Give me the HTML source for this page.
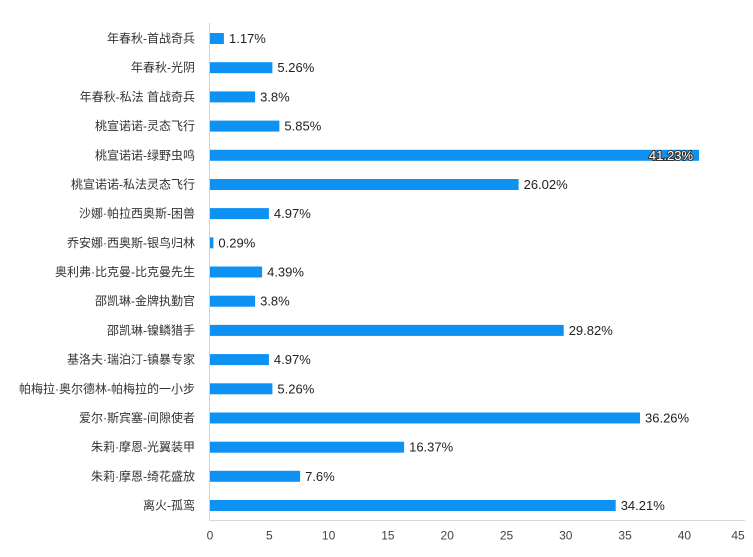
<!DOCTYPE html>
<html><head><meta charset="utf-8"><style>
html,body{margin:0;padding:0;background:#fff;}
svg{display:block;}
text{font-family:"Liberation Sans","Noto Sans CJK SC",sans-serif;}
</style></head><body>
<svg width="753" height="557" viewBox="0 0 753 557" xmlns="http://www.w3.org/2000/svg">
<rect width="753" height="557" fill="#fff"/>
<line x1="209.5" y1="23" x2="209.5" y2="521" stroke="#d0d0d0" stroke-width="1"/>
<line x1="209" y1="520.5" x2="745" y2="520.5" stroke="#d8d8d8" stroke-width="1"/>
<g id="bars"></g>
<g font-size="12" fill="#444" text-anchor="middle">
<text x="210" y="539.5">0</text>
<text x="269.3" y="539.5">5</text>
<text x="328.6" y="539.5">10</text>
<text x="387.9" y="539.5">15</text>
<text x="447.2" y="539.5">20</text>
<text x="506.5" y="539.5">25</text>
<text x="565.8" y="539.5">30</text>
<text x="625.1" y="539.5">35</text>
<text x="684.4" y="539.5">40</text>
<text x="738" y="539.5">45</text>
</g>
<g font-size="12" fill="#333" text-anchor="end">
<text x="195" y="42.5">年春秋-首战奇兵</text>
<text x="195" y="71.7">年春秋-光阴</text>
<text x="195" y="100.9">年春秋-私法 首战奇兵</text>
<text x="195" y="130.1">桃宣诺诺-灵态飞行</text>
<text x="195" y="159.3">桃宣诺诺-绿野虫鸣</text>
<text x="195" y="188.5">桃宣诺诺-私法灵态飞行</text>
<text x="195" y="217.6">沙娜·帕拉西奥斯-困兽</text>
<text x="195" y="246.8">乔安娜·西奥斯-银鸟归林</text>
<text x="195" y="276.0">奥利弗·比克曼-比克曼先生</text>
<text x="195" y="305.2">邵凯琳-金牌执勤官</text>
<text x="195" y="334.4">邵凯琳-镍鳞猎手</text>
<text x="195" y="363.6">基洛夫·瑞泊汀-镇暴专家</text>
<text x="195" y="392.8">帕梅拉·奥尔德林-帕梅拉的一小步</text>
<text x="195" y="422.0">爱尔·斯宾塞-间隙使者</text>
<text x="195" y="451.2">朱莉·摩恩-光翼装甲</text>
<text x="195" y="480.3">朱莉·摩恩-绮花盛放</text>
<text x="195" y="509.5">离火-孤鸾</text>
</g>
<g fill="#0d92f4">
<rect x="210" y="33" width="13.9" height="11"/>
<rect x="210" y="62.2" width="62.4" height="11"/>
<rect x="210" y="91.4" width="45.1" height="11"/>
<rect x="210" y="120.6" width="69.4" height="11"/>
<rect x="210" y="149.8" width="489" height="11"/>
<rect x="210" y="179" width="308.6" height="11"/>
<rect x="210" y="208.1" width="58.9" height="11"/>
<rect x="210" y="237.3" width="3.4" height="11"/>
<rect x="210" y="266.5" width="52.1" height="11"/>
<rect x="210" y="295.7" width="45.1" height="11"/>
<rect x="210" y="324.9" width="353.7" height="11"/>
<rect x="210" y="354.1" width="58.9" height="11"/>
<rect x="210" y="383.3" width="62.4" height="11"/>
<rect x="210" y="412.5" width="430" height="11"/>
<rect x="210" y="441.7" width="194.1" height="11"/>
<rect x="210" y="470.8" width="90.1" height="11"/>
<rect x="210" y="500" width="405.7" height="11"/>
</g>
<g font-size="13" fill="#222">
<text x="229" y="43">1.17%</text>
<text x="277.4" y="72.2">5.26%</text>
<text x="260.1" y="101.4">3.8%</text>
<text x="284.4" y="130.6">5.85%</text>
<text x="523.6" y="189">26.02%</text>
<text x="273.9" y="218.1">4.97%</text>
<text x="218.4" y="247.3">0.29%</text>
<text x="267.1" y="276.5">4.39%</text>
<text x="260.1" y="305.7">3.8%</text>
<text x="568.7" y="334.9">29.82%</text>
<text x="273.9" y="364.1">4.97%</text>
<text x="277.4" y="393.3">5.26%</text>
<text x="645" y="422.5">36.26%</text>
<text x="409.1" y="451.7">16.37%</text>
<text x="305.1" y="480.8">7.6%</text>
<text x="620.7" y="510">34.21%</text>
</g>
<text x="693" y="159.8" font-size="13" fill="#fff" stroke="#333" stroke-width="2" paint-order="stroke" text-anchor="end">41.23%</text>
</svg>
</body></html>
